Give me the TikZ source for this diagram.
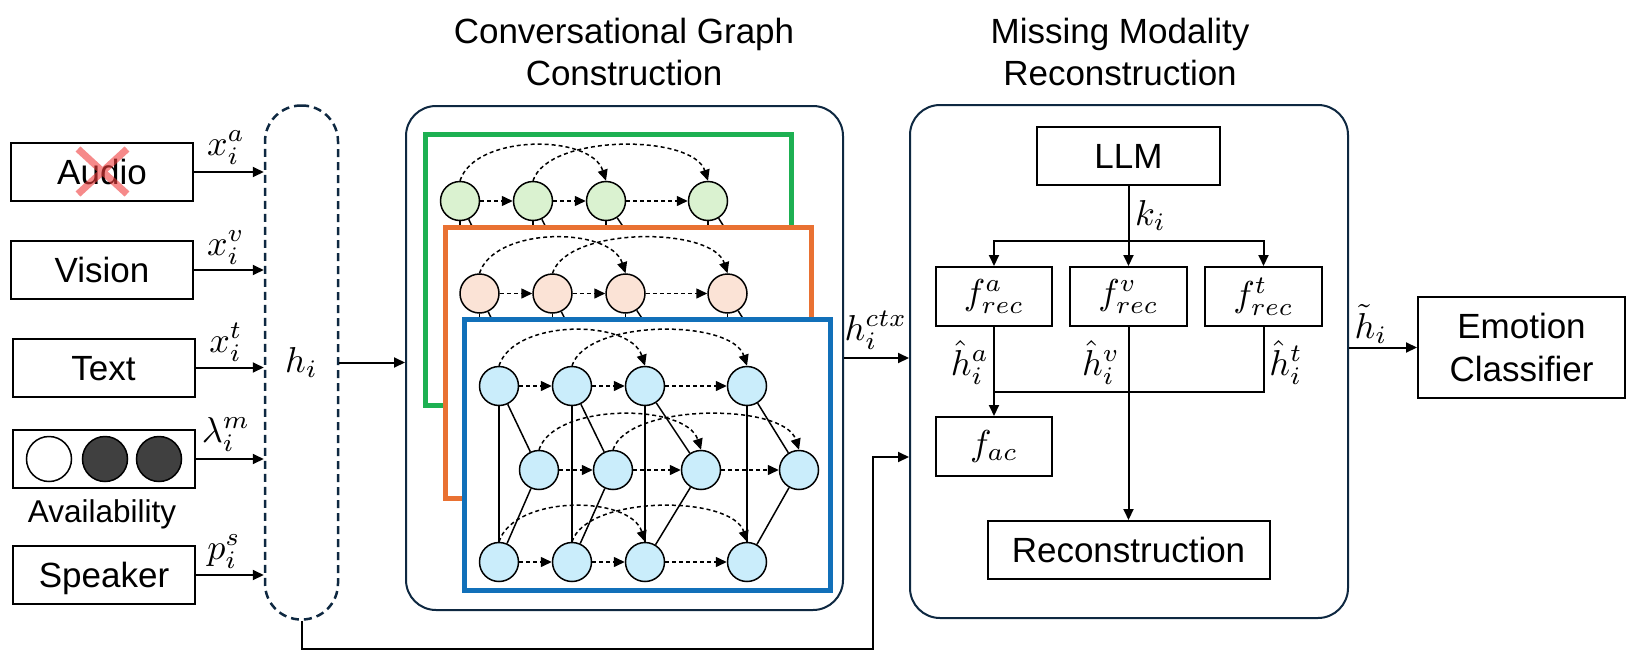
\documentclass[tikz,border=0pt]{standalone}
\usepackage{graphicx}
\usepackage{fontspec}
\setmainfont{Liberation Sans}
\usetikzlibrary{arrows.meta,calc}
\definecolor{navy}{HTML}{0E2841}
\definecolor{lgreen}{HTML}{1DB052}
\definecolor{lorange}{HTML}{E97132}
\definecolor{lblue}{HTML}{1170B9}
\definecolor{fgreen}{HTML}{DAF2D0}
\definecolor{forange}{HTML}{FBE3D6}
\definecolor{fblue}{HTML}{CAEDFB}
\definecolor{darkc}{HTML}{404040}
\definecolor{crossred}{HTML}{F03C3C}
\newcommand\mth[1]{\scalebox{3.6}{\fontsize{10}{12}\selectfont$#1$}}
\newcommand\convgraph[2]{%
  \foreach \i/\x in {1/499,2/572,3/645,4/747} {
    \node[gnode,fill=#2] (#1t\i) at (\x,386) {};
    \node[gnode,fill=#2] (#1b\i) at (\x,562) {};
  }
  \foreach \i/\x in {1/539,2/613,3/701,4/799}
    \node[gnode,fill=#2] (#1m\i) at (\x,470) {};
  \foreach \i in {1,...,4} {
    \draw[gline] (#1t\i) -- (#1b\i);
    \draw[gline] (#1t\i) -- (#1m\i);
    \draw[gline] (#1m\i) -- (#1b\i);
  }
  \foreach \r in {t,m,b} {
    \foreach \i/\j in {1/2,2/3,3/4}
      \draw[garrow] (#1\r\i) -- (#1\r\j);
    \foreach \i/\j in {1/3,2/4}
      \draw[garrow] (#1\r\i.north) .. controls +(15,-47) and +(-15,-47) .. (#1\r\j.north);
  }
}
\begin{document}
\begin{tikzpicture}[x=1pt,y=-1pt,font=\fontsize{35}{42}\selectfont,
  box/.style={draw=black, line width=2pt, inner sep=0pt, text height=25pt, text depth=0pt},
  mbox/.style={draw=black, line width=2pt, inner sep=0pt},
  arr/.style={line width=2pt, -{Triangle[length=11pt,width=10pt]}},
  plain/.style={line width=2pt},
  gnode/.style={circle, draw=black, line width=1.5pt, minimum size=39pt, inner sep=0pt},
  gline/.style={line width=1.5pt},
  garrow/.style={line width=1.5pt, dash pattern=on 4pt off 3pt, -{Triangle[length=11pt,width=10pt]}},
  frame/.style={draw=navy, line width=2pt, rounded corners=30pt, inner sep=0pt},
  layer/.style={line width=5pt, fill=white},
  lab/.style={anchor=base, inner sep=0pt},
  avc/.style={circle, draw=black, line width=1.5pt, minimum size=45pt, inner sep=0pt},
  cross/.style={line width=7pt, draw=crossred, opacity=0.6}]
\useasboundingbox (0,0) rectangle (1634,664);
\fill[white] (0,0) rectangle (1634,664);

% titles
\node[align=center, anchor=north, inner sep=0pt, font=\fontsize{35}{41.5}\selectfont] (t1) at (624,18) {Conversational Graph\\Construction};
\node[align=center, anchor=north, inner sep=0pt, font=\fontsize{35}{41.5}\selectfont] (t2) at (1120,18) {Missing Modality\\Reconstruction};

% inputs
\node[box, minimum width=182, minimum height=58] (audio) at (102,172) {Audio};
\draw[cross] (78,149) -- (127,194) (127,149) -- (78,194);
\node[box, minimum width=182, minimum height=58] (vision) at (102,270) {Vision};
\node[box, minimum width=182, minimum height=58] (text) at (103.5,367.5) {Text};
\node[box, minimum width=182, minimum height=58] (avail) at (104,459) {};
\node[avc, fill=white] (c1) at (49,459) {};
\node[avc, fill=darkc] (c2) at (105,459) {};
\node[avc, fill=darkc] (c3) at (159,459) {};
\node[lab, font=\fontsize{31.5}{38}\selectfont] (availlab) at (102,522) {Availability};
\node[box, minimum width=182, minimum height=58] (speaker) at (104,575) {Speaker};

\node[draw=navy, line width=2.5pt, dash pattern=on 8pt off 5pt, rounded corners=36pt, minimum width=73, minimum height=514, inner sep=0pt] (hbox) at (301.5,362.5) {\mth{h_i}};

\draw[arr] (audio.east) -- (audio.east -| hbox.west);
\draw[arr] (vision.east) -- (vision.east -| hbox.west);
\draw[arr] (text.east) -- (text.east -| hbox.west);
\draw[arr] (avail.east) -- (avail.east -| hbox.west);
\draw[arr] (speaker.east) -- (speaker.east -| hbox.west);
\node[lab] (lxa) at (226,155) {\mth{x_i^a}};
\node[lab] (lxv) at (226,255) {\mth{x_i^v}};
\node[lab] (lxt) at (226,352) {\mth{x_i^t}};
\node[lab] (llam) at (226,442) {\mth{\lambda_i^m}};
\node[lab] (lps) at (224,559) {\mth{p_i^s}};

% graph construction
\node[frame, minimum width=437, minimum height=504] (gbox) at (624.5,358) {};
\draw[arr] (hbox.east) -- (hbox.east -| gbox.west);

\begin{scope}[shift={(-39,-185)}]
  \draw[layer, draw=lgreen] (464.5,319.5) rectangle (830.5,590.5);
  \begin{scope}
    \clip (467,322) rectangle (828,420);
    \convgraph{g}{fgreen}
  \end{scope}
\end{scope}
\begin{scope}[shift={(-19.5,-92.5)}]
  \draw[layer, draw=lorange] (464.5,319.5) rectangle (830.5,590.5);
  \begin{scope}
    \clip (467,322) rectangle (828,420);
    \convgraph{o}{forange}
  \end{scope}
\end{scope}
\draw[layer, draw=lblue] (464.5,319.5) rectangle (830.5,590.5);
\convgraph{b}{fblue}

% reconstruction
\node[frame, minimum width=438, minimum height=513] (rbox) at (1129,361.5) {};
\draw[arr] (gbox.east) -- (gbox.east -| rbox.west);
\node[lab] (lctx) at (876,340) {\mth{h_i^{ctx}}};

\coordinate (bot) at (873,649);
\coordinate (up) at (873,457);
\draw[arr] (hbox.south) |- (bot) -- (up) -- (up -| rbox.west);

\node[box, minimum width=183, minimum height=58] (llm) at (1128.5,156) {LLM};
\node[mbox, minimum width=116, minimum height=59] (fa) at (994,296.5) {\mth{f_{rec}^a}};
\node[mbox, minimum width=117, minimum height=59] (fv) at (1128.5,296.5) {\mth{f_{rec}^v}};
\node[mbox, minimum width=117, minimum height=59] (ft) at (1263.5,296.5) {\mth{f_{rec}^t}};
\node[mbox, minimum width=116, minimum height=59] (fac) at (994,446.5) {\mth{f_{ac}}};
\node[box, minimum width=282, minimum height=58] (rec) at (1128.5,550) {Reconstruction};

\coordinate (br) at ($(llm.south)+(0,55)$);
\draw[plain] (llm.south) -- (br);
\draw[arr] (br) -- (fv.north);
\draw[arr] (br) -| (fa.north);
\draw[arr] (br) -| (ft.north);
\node[lab, anchor=base west] (lk) at (1135,225) {\mth{k_i}};

\coordinate (mg) at ($(fa.south)+(0,65)$);
\draw[arr] (fa.south) -- (fac.north);
\draw[plain] (ft.south) |- (mg);
\draw[arr] (fv.south) -- (rec.north);
\node[lab] (lha) at (970,375) {\mth{\hat{h}_i^a}};
\node[lab] (lhv) at (1101,375) {\mth{\hat{h}_i^v}};
\node[lab] (lht) at (1286,375) {\mth{\hat{h}_i^t}};

% classifier
\node[draw=black, line width=2pt, minimum width=207, minimum height=101, align=center, inner sep=0pt, font=\fontsize{35}{43}\selectfont] (ec) at (1521.5,347.5) {Emotion\\Classifier};
\draw[arr] (ec.west -| rbox.east) -- (ec.west);
\node[lab] (lht2) at (1371,338) {\mth{\tilde{h}_i}};
\end{tikzpicture}
\end{document}
